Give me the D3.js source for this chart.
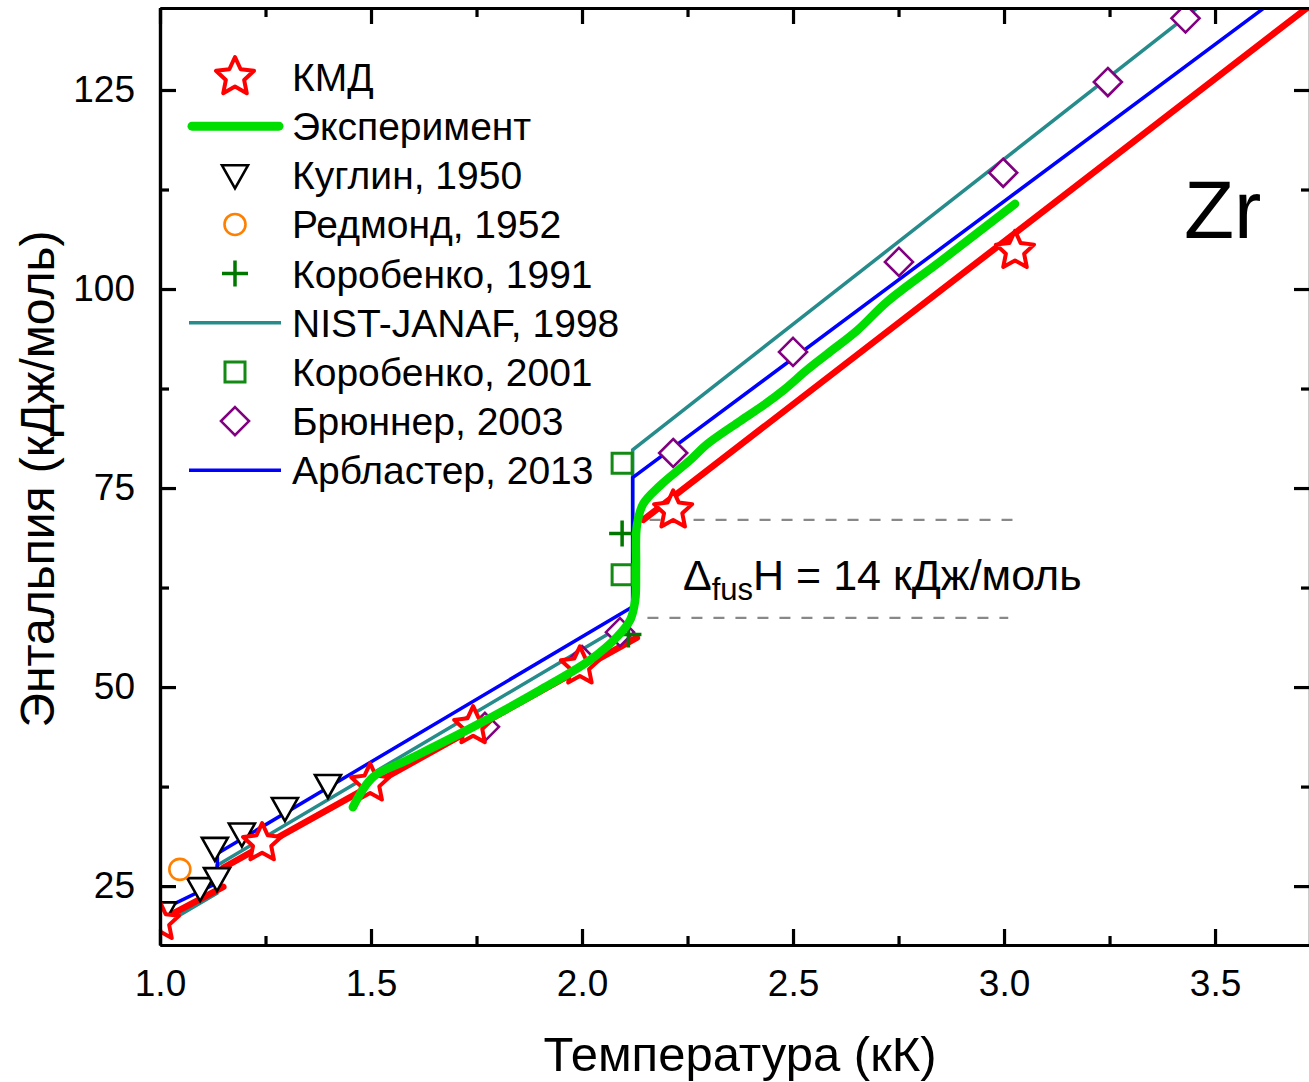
<!DOCTYPE html>
<html>
<head>
<meta charset="utf-8">
<script src="https://cdn.jsdelivr.net/npm/d3@7"></script>
<style>
  body { margin: 0; background: #fff; }
  svg { display: block; font-family: "Liberation Sans", Arial, sans-serif; }
</style>
</head>
<body>
<script>
// Data: [T (kK), H (kJ/mol)]
const kmdStars = [[1.0, 20.5], [1.242, 30.4], [1.498, 37.9], [1.742, 45.1], [1.995, 52.6], [2.216, 72.2], [3.026, 104.8]];
const kmdAlpha = [[1.0, 20.7], [1.15, 24.9]];
const kmdBeta = [[1.15, 27.3], [2.13, 56.2]];
const kmdLiquid = [[2.145, 71.0], [3.725, 135.6]];

const experiment = [[1.457, 34.9], [1.505, 38.7], [1.585, 40.8], [1.742, 45.0], [1.9, 49.6], [2.019, 53.4],
  [2.083, 56.3], [2.114, 58.4], [2.126, 60.9], [2.128, 65.0], [2.13, 70.3], [2.145, 73.0], [2.185, 75.3],
  [2.256, 78.5], [2.296, 80.5], [2.374, 83.4], [2.43, 85.4], [2.48, 87.4], [2.53, 89.7], [2.58, 91.8],
  [2.652, 94.8], [2.723, 98.4], [2.85, 103.5], [2.95, 107.6], [3.026, 110.7]];

const kuglin1950 = [[1.007, 21.7], [1.095, 24.75], [1.135, 26.0], [1.13, 29.8], [1.194, 31.6], [1.296, 34.8], [1.398, 37.7]];
const redmond1952 = [[1.047, 27.1]];
const korobenko1991 = [[2.095, 69.3], [2.11, 56.6]];
const nistJanaf1998 = [[1.0, 19.9], [1.135, 24.1], [1.135, 27.6], [2.12, 58.5], [2.12, 79.8], [3.725, 146.4]];
const korobenko2001 = [[2.095, 78.1], [2.095, 64.1]];
const brunner2003 = [[1.77, 45.0], [2.0, 53.4], [2.09, 56.9], [2.216, 79.4], [2.5, 92.1], [2.751, 103.4],
  [2.998, 114.6], [3.246, 126.0], [3.43, 134.0]];
const arblaster2013 = [[1.0, 21.9], [1.136, 25.4], [1.136, 29.1], [1.427, 38.3], [2.12, 60.1], [2.12, 76.3], [3.725, 139.6]];

const xTicks = [1.0, 1.5, 2.0, 2.5, 3.0, 3.5];
const xMinorTicks = [1.25, 1.75, 2.25, 2.75, 3.25];
const yTicks = [25, 50, 75, 100, 125];
const yMinorTicks = [37.5, 62.5, 87.5, 112.5];
const legendLabels = ["КМД", "Эксперимент", "Куглин, 1950", "Редмонд, 1952", "Коробенко, 1991",
  "NIST-JANAF, 1998", "Коробенко, 2001", "Брюннер, 2003", "Арбластер, 2013"];

const width = 1309, height = 1082;
const plot = {left: 160, right: 1310, top: 8, bottom: 945};

const x = d3.scaleLinear().domain([1.0, 3.725]).range([plot.left, plot.right]);
const y = d3.scaleLinear().domain([17.6, 135.3]).range([plot.bottom, plot.top]);

const svg = d3.select("body").append("svg")
  .attr("width", width)
  .attr("height", height);

svg.append("rect").attr("width", width).attr("height", height).attr("fill", "#fff");

svg.append("defs").append("clipPath").attr("id", "plotClip")
  .append("rect")
  .attr("x", plot.left).attr("y", plot.top)
  .attr("width", plot.right - plot.left).attr("height", plot.bottom - plot.top);

// marker shapes
const starPath = (R) => {
  const r = R * 0.48;
  const pts = [];
  for (let i = 0; i < 10; i++) {
    const a = -Math.PI / 2 + i * Math.PI / 5;
    const rr = i % 2 === 0 ? R : r;
    pts.push([rr * Math.cos(a), rr * Math.sin(a)]);
  }
  return "M" + pts.map(p => p.join(",")).join("L") + "Z";
};
const triDownPath = "M-13,-10L13,-10L0,13Z";
const diamondPath = "M0,-14L14,0L0,14L-14,0Z";
const squarePath = "M-10,-10L10,-10L10,10L-10,10Z";
const plusPath = "M-13,0L13,0M0,-13L0,13";

const line = d3.line().x(d => x(d[0])).y(d => y(d[1]));
const smoothLine = d3.line().x(d => x(d[0])).y(d => y(d[1])).curve(d3.curveCatmullRom.alpha(0.5));

const g = svg.append("g").attr("clip-path", "url(#plotClip)");

// dashed guides for the heat of fusion
g.selectAll("line.guide")
  .data([[2.16, 3.02, 71.0], [2.155, 3.01, 58.7]])
  .join("line")
  .attr("class", "guide")
  .attr("x1", d => x(d[0])).attr("x2", d => x(d[1]))
  .attr("y1", d => y(d[2])).attr("y2", d => y(d[2]))
  .attr("stroke", "#888").attr("stroke-width", 2.2)
  .attr("stroke-dasharray", "11,11");

// reference lines
g.append("path").datum(nistJanaf1998).attr("d", line)
  .attr("fill", "none").attr("stroke", "#268b8b").attr("stroke-width", 3.5);
g.append("path").datum(arblaster2013).attr("d", line)
  .attr("fill", "none").attr("stroke", "#0000ff").attr("stroke-width", 3.5);

g.selectAll("path.kmd")
  .data([kmdAlpha, kmdBeta, kmdLiquid])
  .join("path")
  .attr("class", "kmd")
  .attr("d", line)
  .attr("fill", "none").attr("stroke", "#ff0000").attr("stroke-width", 6.5)
  .attr("stroke-linecap", "round");

const drawMarkers = (data, path, stroke, fill, sw) => {
  g.append("g").selectAll("path")
    .data(data)
    .join("path")
    .attr("transform", d => `translate(${x(d[0])},${y(d[1])})`)
    .attr("d", path)
    .attr("fill", fill)
    .attr("stroke", stroke)
    .attr("stroke-width", sw)
    .attr("stroke-linejoin", "miter");
};

drawMarkers(brunner2003, diamondPath, "#800080", "#fff", 2.6);
drawMarkers(korobenko2001, squarePath, "#138a13", "#fff", 3);
drawMarkers(kuglin1950, triDownPath, "#000", "#fff", 2.6);

g.append("g").selectAll("circle")
  .data(redmond1952)
  .join("circle")
  .attr("cx", d => x(d[0])).attr("cy", d => y(d[1]))
  .attr("r", 10.5)
  .attr("fill", "#fff").attr("stroke", "#ff8000").attr("stroke-width", 2.6);

drawMarkers(korobenko1991, plusPath, "#007800", "none", 3.5);

g.append("g").selectAll("path")
  .data(kmdStars)
  .join("path")
  .attr("transform", d => `translate(${x(d[0])},${y(d[1])})`)
  .attr("d", starPath(20))
  .attr("fill", "#fff").attr("stroke", "#ff0000").attr("stroke-width", 4)
  .attr("stroke-linejoin", "round");

g.append("path").datum(experiment).attr("d", smoothLine)
  .attr("fill", "none").attr("stroke", "#00dd00").attr("stroke-width", 8.5)
  .attr("stroke-linecap", "round").attr("stroke-linejoin", "round");

// axes with inward ticks on all four sides
const fmt = d3.format(".1f");
const axisStyle = sel => {
  sel.select(".domain").attr("stroke", "#000").attr("stroke-width", 3.2);
  sel.selectAll(".tick line").attr("stroke", "#000").attr("stroke-width", 3.2);
  sel.selectAll(".tick text").attr("fill", "#000").style("font-size", "37px")
    .style("font-family", "'Liberation Sans', Arial, sans-serif");
};

svg.append("g").attr("transform", `translate(0,${plot.bottom})`)
  .call(d3.axisBottom(x).tickValues(xTicks).tickFormat(fmt).tickSize(-16).tickSizeOuter(0).tickPadding(25))
  .call(axisStyle);
svg.append("g").attr("transform", `translate(0,${plot.bottom})`)
  .call(d3.axisBottom(x).tickValues(xMinorTicks).tickFormat("").tickSize(-9).tickSizeOuter(0))
  .call(axisStyle);
svg.append("g").attr("transform", `translate(0,${plot.top})`)
  .call(d3.axisTop(x).tickValues(xTicks).tickFormat("").tickSize(-16).tickSizeOuter(0))
  .call(axisStyle);
svg.append("g").attr("transform", `translate(0,${plot.top})`)
  .call(d3.axisTop(x).tickValues(xMinorTicks).tickFormat("").tickSize(-9).tickSizeOuter(0))
  .call(axisStyle);

svg.append("g").attr("transform", `translate(${plot.left},0)`)
  .call(d3.axisLeft(y).tickValues(yTicks).tickSize(-16).tickSizeOuter(0).tickPadding(25))
  .call(axisStyle);
svg.append("g").attr("transform", `translate(${plot.left},0)`)
  .call(d3.axisLeft(y).tickValues(yMinorTicks).tickFormat("").tickSize(-9).tickSizeOuter(0))
  .call(axisStyle);
svg.append("g").attr("transform", `translate(${plot.right},0)`)
  .call(d3.axisRight(y).tickValues(yTicks).tickFormat("").tickSize(-16).tickSizeOuter(0))
  .call(axisStyle);
svg.append("g").attr("transform", `translate(${plot.right},0)`)
  .call(d3.axisRight(y).tickValues(yMinorTicks).tickFormat("").tickSize(-9).tickSizeOuter(0))
  .call(axisStyle);

// axis titles
svg.append("text")
  .attr("x", 740).attr("y", 1071)
  .attr("text-anchor", "middle")
  .style("font-size", "49px")
  .text("Температура (кК)");

svg.append("text")
  .attr("transform", "translate(54,479) rotate(-90)")
  .attr("text-anchor", "middle")
  .style("font-size", "48px")
  .text("Энтальпия (кДж/моль)");

// element label and fusion annotation
svg.append("text")
  .attr("x", 1184).attr("y", 238)
  .style("font-size", "82px")
  .text("Zr");

const ann = svg.append("text")
  .attr("x", 683).attr("y", 590)
  .style("font-size", "43px");
ann.append("tspan").text("Δ");
ann.append("tspan").attr("dy", 10).style("font-size", "31px").text("fus");
ann.append("tspan").attr("dy", -10).text("H = 14 кДж/моль");

// legend
const legendX = 235, legendTextX = 292, legendY0 = 77, legendStep = 49.15;
const legendKinds = ["star", "green", "tri", "circle", "plus", "teal", "square", "diamond", "blue"];

const legend = svg.append("g");
const rows = legend.selectAll("g")
  .data(legendLabels)
  .join("g")
  .attr("transform", (d, i) => `translate(0,${legendY0 + i * legendStep})`);

rows.append("text")
  .attr("x", legendTextX).attr("y", 14)
  .style("font-size", "39px")
  .text(d => d);

rows.each(function (d, i) {
  const row = d3.select(this);
  const kind = legendKinds[i];
  if (kind === "star") {
    row.append("path").attr("transform", `translate(${legendX},0)`).attr("d", starPath(20))
      .attr("fill", "#fff").attr("stroke", "#ff0000").attr("stroke-width", 4).attr("stroke-linejoin", "round");
  } else if (kind === "green") {
    row.append("line").attr("x1", 192).attr("x2", 279)
      .attr("stroke", "#00dd00").attr("stroke-width", 9).attr("stroke-linecap", "round");
  } else if (kind === "teal" || kind === "blue") {
    row.append("line").attr("x1", 189).attr("x2", 281)
      .attr("stroke", kind === "teal" ? "#268b8b" : "#0000ff").attr("stroke-width", 3.5);
  } else if (kind === "circle") {
    row.append("circle").attr("cx", legendX).attr("r", 10.5)
      .attr("fill", "#fff").attr("stroke", "#ff8000").attr("stroke-width", 2.6);
  } else {
    const shapes = {
      tri: [triDownPath, "#000", "#fff", 2.6],
      plus: [plusPath, "#007800", "none", 3.5],
      square: [squarePath, "#138a13", "#fff", 3],
      diamond: [diamondPath, "#800080", "#fff", 2.6]
    };
    const s = shapes[kind];
    row.append("path").attr("transform", `translate(${legendX},0)`).attr("d", s[0])
      .attr("stroke", s[1]).attr("fill", s[2]).attr("stroke-width", s[3]);
  }
});
</script>
</body>
</html>
